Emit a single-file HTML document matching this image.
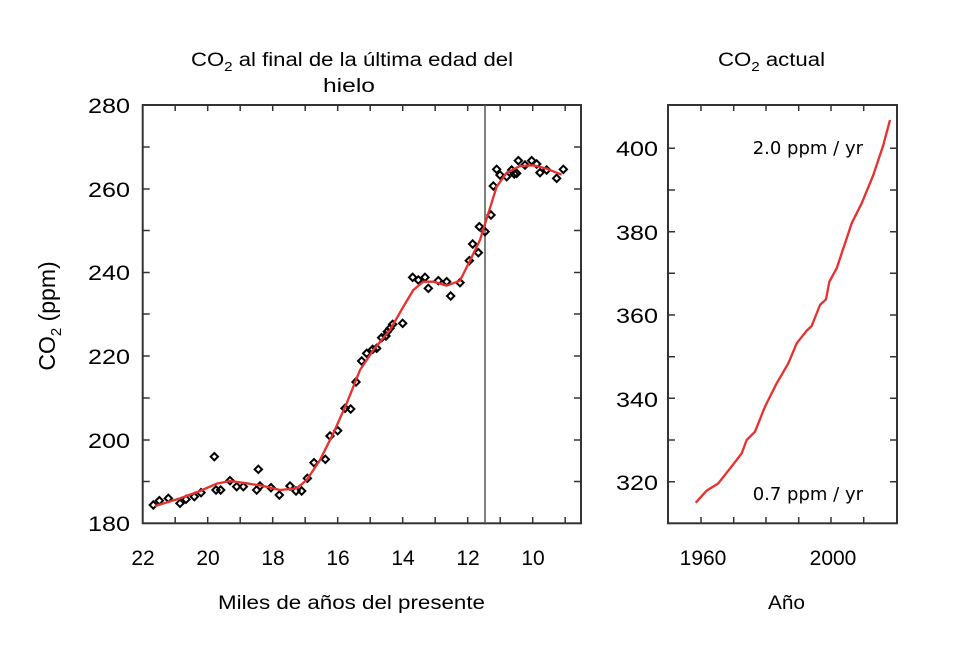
<!DOCTYPE html>
<html><head><meta charset="utf-8"><style>
body{margin:0;background:#fff}
svg{display:block}
text{font-family:"Liberation Sans",Arial,sans-serif;fill:#000}
</style></head><body>
<svg width="957" height="647" viewBox="0 0 957 647" xmlns="http://www.w3.org/2000/svg">
<g font-size="19">
<text x="191" y="66" textLength="322" lengthAdjust="spacingAndGlyphs">CO<tspan font-size="13" dy="5">2</tspan><tspan dy="-5"> al final de la última edad del</tspan></text>
<text x="323" y="92" textLength="52" lengthAdjust="spacingAndGlyphs">hielo</text>
<text x="718" y="66" textLength="107" lengthAdjust="spacingAndGlyphs">CO<tspan font-size="13" dy="5">2</tspan><tspan dy="-5"> actual</tspan></text>
<text x="218" y="609" textLength="267" lengthAdjust="spacingAndGlyphs">Miles de años del presente</text>
<text x="768" y="609" textLength="37" lengthAdjust="spacingAndGlyphs">Año</text>
</g>
<text transform="translate(55,316) rotate(-90)" font-size="23" text-anchor="middle">CO<tspan font-size="15" dy="6">2</tspan><tspan dy="-6"> (ppm)</tspan></text>
<g font-size="21">
<text x="88" y="113" textLength="42" lengthAdjust="spacingAndGlyphs">280</text><text x="88" y="197" textLength="42" lengthAdjust="spacingAndGlyphs">260</text><text x="88" y="280" textLength="42" lengthAdjust="spacingAndGlyphs">240</text><text x="88" y="364" textLength="42" lengthAdjust="spacingAndGlyphs">220</text><text x="88" y="448" textLength="42" lengthAdjust="spacingAndGlyphs">200</text><text x="88" y="531" textLength="42" lengthAdjust="spacingAndGlyphs">180</text>
<text x="616" y="156" textLength="42" lengthAdjust="spacingAndGlyphs">400</text><text x="616" y="240" textLength="42" lengthAdjust="spacingAndGlyphs">380</text><text x="616" y="323" textLength="42" lengthAdjust="spacingAndGlyphs">360</text><text x="616" y="407" textLength="42" lengthAdjust="spacingAndGlyphs">340</text><text x="616" y="490" textLength="42" lengthAdjust="spacingAndGlyphs">320</text>
</g>
<g font-size="21" text-anchor="middle">
<text x="143" y="565">22</text><text x="208" y="565">20</text><text x="273" y="565">18</text><text x="338" y="565">16</text><text x="403" y="565">14</text><text x="468" y="565">12</text><text x="533" y="565">10</text>
<text x="703" y="565">1960</text><text x="833" y="565">2000</text>
</g>
<g font-size="18" text-anchor="end">
<text x="863" y="154" style="font-family:'DejaVu Sans',sans-serif">2.0 ppm / yr</text>
<text x="863" y="500" style="font-family:'DejaVu Sans',sans-serif">0.7 ppm / yr</text>
</g>
<g stroke="#333" stroke-width="1.5" fill="none">
<rect x="142.7" y="105" width="438.3" height="418.3" stroke-width="2"/>
<rect x="668" y="105" width="229" height="418.3" stroke-width="2"/>
<line x1="485" y1="105" x2="485" y2="523" stroke="#555"/>
<path d="M175.2,105v6M207.7,105v6M240.2,105v6M272.7,105v6M305.2,105v6M337.7,105v6M370.2,105v6M402.7,105v6M435.2,105v6M467.7,105v6M500.2,105v6M532.7,105v6M565.2,105v6
M175.2,523v-6M207.7,523v-6M240.2,523v-6M272.7,523v-6M305.2,523v-6M337.7,523v-6M370.2,523v-6M402.7,523v-6M435.2,523v-6M467.7,523v-6M500.2,523v-6M532.7,523v-6M565.2,523v-6
M142.7,147h7M142.7,189h7M142.7,230.5h7M142.7,272.5h7M142.7,314h7M142.7,356h7M142.7,398h7M142.7,440h7M142.7,481.5h7
M581,147h-7M581,189h-7M581,230.5h-7M581,272.5h-7M581,314h-7M581,356h-7M581,398h-7M581,440h-7M581,481.5h-7
M701,105v6M733.7,105v6M766,105v6M798.7,105v6M831,105v6M863.7,105v6
M701,523v-6M733.7,523v-6M766,523v-6M798.7,523v-6M831,523v-6M863.7,523v-6
M668,148.3h7M668,190h7M668,231.7h7M668,273.3h7M668,315h7M668,356.7h7M668,398.3h7M668,440h7M668,481.7h7
M897,148.3h-7M897,190h-7M897,231.7h-7M897,273.3h-7M897,315h-7M897,356.7h-7M897,398.3h-7M897,440h-7M897,481.7h-7"/>
</g>
<g transform="translate(100,90) scale(0.33333)">
<g fill="none" stroke="#000" stroke-width="6">
<path d="M0,-11L11,0L0,11L-11,0Z" transform="translate(160,1245)"/>
<path d="M0,-11L11,0L0,11L-11,0Z" transform="translate(178,1232)"/><path d="M0,-11L11,0L0,11L-11,0Z" transform="translate(205,1225)"/><path d="M0,-11L11,0L0,11L-11,0Z" transform="translate(240,1240)"/><path d="M0,-11L11,0L0,11L-11,0Z" transform="translate(258,1228)"/><path d="M0,-11L11,0L0,11L-11,0Z" transform="translate(283,1220)"/><path d="M0,-11L11,0L0,11L-11,0Z" transform="translate(303,1208)"/><path d="M0,-11L11,0L0,11L-11,0Z" transform="translate(343,1100)"/><path d="M0,-11L11,0L0,11L-11,0Z" transform="translate(348,1200)"/><path d="M0,-11L11,0L0,11L-11,0Z" transform="translate(362,1200)"/><path d="M0,-11L11,0L0,11L-11,0Z" transform="translate(390,1172)"/><path d="M0,-11L11,0L0,11L-11,0Z" transform="translate(410,1190)"/><path d="M0,-11L11,0L0,11L-11,0Z" transform="translate(430,1190)"/><path d="M0,-11L11,0L0,11L-11,0Z" transform="translate(470,1200)"/><path d="M0,-11L11,0L0,11L-11,0Z" transform="translate(475,1138)"/><path d="M0,-11L11,0L0,11L-11,0Z" transform="translate(480,1188)"/><path d="M0,-11L11,0L0,11L-11,0Z" transform="translate(513,1193)"/><path d="M0,-11L11,0L0,11L-11,0Z" transform="translate(538,1215)"/><path d="M0,-11L11,0L0,11L-11,0Z" transform="translate(570,1188)"/><path d="M0,-11L11,0L0,11L-11,0Z" transform="translate(588,1203)"/><path d="M0,-11L11,0L0,11L-11,0Z" transform="translate(605,1203)"/><path d="M0,-11L11,0L0,11L-11,0Z" transform="translate(622,1165)"/><path d="M0,-11L11,0L0,11L-11,0Z" transform="translate(642,1118)"/><path d="M0,-11L11,0L0,11L-11,0Z" transform="translate(676,1108)"/><path d="M0,-11L11,0L0,11L-11,0Z" transform="translate(690,1038)"/><path d="M0,-11L11,0L0,11L-11,0Z" transform="translate(713,1022)"/><path d="M0,-11L11,0L0,11L-11,0Z" transform="translate(735,955)"/><path d="M0,-11L11,0L0,11L-11,0Z" transform="translate(752,957)"/><path d="M0,-11L11,0L0,11L-11,0Z" transform="translate(768,876)"/><path d="M0,-11L11,0L0,11L-11,0Z" transform="translate(785,813)"/><path d="M0,-11L11,0L0,11L-11,0Z" transform="translate(800,790)"/><path d="M0,-11L11,0L0,11L-11,0Z" transform="translate(818,778)"/><path d="M0,-11L11,0L0,11L-11,0Z" transform="translate(830,775)"/><path d="M0,-11L11,0L0,11L-11,0Z" transform="translate(845,743)"/><path d="M0,-11L11,0L0,11L-11,0Z" transform="translate(858,738)"/><path d="M0,-11L11,0L0,11L-11,0Z" transform="translate(862,725)"/><path d="M0,-11L11,0L0,11L-11,0Z" transform="translate(870,715)"/><path d="M0,-11L11,0L0,11L-11,0Z" transform="translate(878,703)"/><path d="M0,-11L11,0L0,11L-11,0Z" transform="translate(908,700)"/><path d="M0,-11L11,0L0,11L-11,0Z" transform="translate(938,562)"/><path d="M0,-11L11,0L0,11L-11,0Z" transform="translate(955,570)"/><path d="M0,-11L11,0L0,11L-11,0Z" transform="translate(975,562)"/><path d="M0,-11L11,0L0,11L-11,0Z" transform="translate(985,595)"/><path d="M0,-11L11,0L0,11L-11,0Z" transform="translate(1015,572)"/><path d="M0,-11L11,0L0,11L-11,0Z" transform="translate(1040,575)"/><path d="M0,-11L11,0L0,11L-11,0Z" transform="translate(1052,618)"/><path d="M0,-11L11,0L0,11L-11,0Z" transform="translate(1080,578)"/><path d="M0,-11L11,0L0,11L-11,0Z" transform="translate(1108,512)"/><path d="M0,-11L11,0L0,11L-11,0Z" transform="translate(1118,462)"/><path d="M0,-11L11,0L0,11L-11,0Z" transform="translate(1135,488)"/><path d="M0,-11L11,0L0,11L-11,0Z" transform="translate(1138,410)"/><path d="M0,-11L11,0L0,11L-11,0Z" transform="translate(1155,425)"/><path d="M0,-11L11,0L0,11L-11,0Z" transform="translate(1173,375)"/><path d="M0,-11L11,0L0,11L-11,0Z" transform="translate(1180,288)"/><path d="M0,-11L11,0L0,11L-11,0Z" transform="translate(1190,238)"/><path d="M0,-11L11,0L0,11L-11,0Z" transform="translate(1200,255)"/><path d="M0,-11L11,0L0,11L-11,0Z" transform="translate(1220,260)"/><path d="M0,-11L11,0L0,11L-11,0Z" transform="translate(1235,240)"/><path d="M0,-11L11,0L0,11L-11,0Z" transform="translate(1243,252)"/><path d="M0,-11L11,0L0,11L-11,0Z" transform="translate(1250,250)"/><path d="M0,-11L11,0L0,11L-11,0Z" transform="translate(1255,212)"/><path d="M0,-11L11,0L0,11L-11,0Z" transform="translate(1275,225)"/><path d="M0,-11L11,0L0,11L-11,0Z" transform="translate(1295,212)"/><path d="M0,-11L11,0L0,11L-11,0Z" transform="translate(1310,222)"/><path d="M0,-11L11,0L0,11L-11,0Z" transform="translate(1320,248)"/><path d="M0,-11L11,0L0,11L-11,0Z" transform="translate(1340,240)"/><path d="M0,-11L11,0L0,11L-11,0Z" transform="translate(1370,265)"/><path d="M0,-11L11,0L0,11L-11,0Z" transform="translate(1390,238)"/>
</g>
<polyline fill="none" stroke="#e8312f" stroke-width="7" stroke-linejoin="round" points="165,1248 240,1225 300,1203 350,1181 390,1173 440,1180 490,1188 540,1200 590,1195 620,1170 660,1110 700,1030 740,940 780,840 820,780 870,720 910,650 940,600 970,575 1000,575 1040,587 1080,572 1110,512 1140,450 1165,370 1190,290 1220,248 1260,228 1300,226 1340,236 1385,254"/>
</g>
<g transform="translate(580,90) scale(0.33333)">
<polyline fill="none" stroke="#e8312f" stroke-width="7" stroke-linejoin="round" points="347,1238 380,1202 415,1180 440,1148 470,1110 485,1090 500,1050 525,1025 555,950 590,880 625,820 650,760 680,722 695,708 720,645 738,628 748,575 770,535 790,475 815,400 845,340 880,255 910,165 930,90"/>
</g>
</svg>
</body></html>
